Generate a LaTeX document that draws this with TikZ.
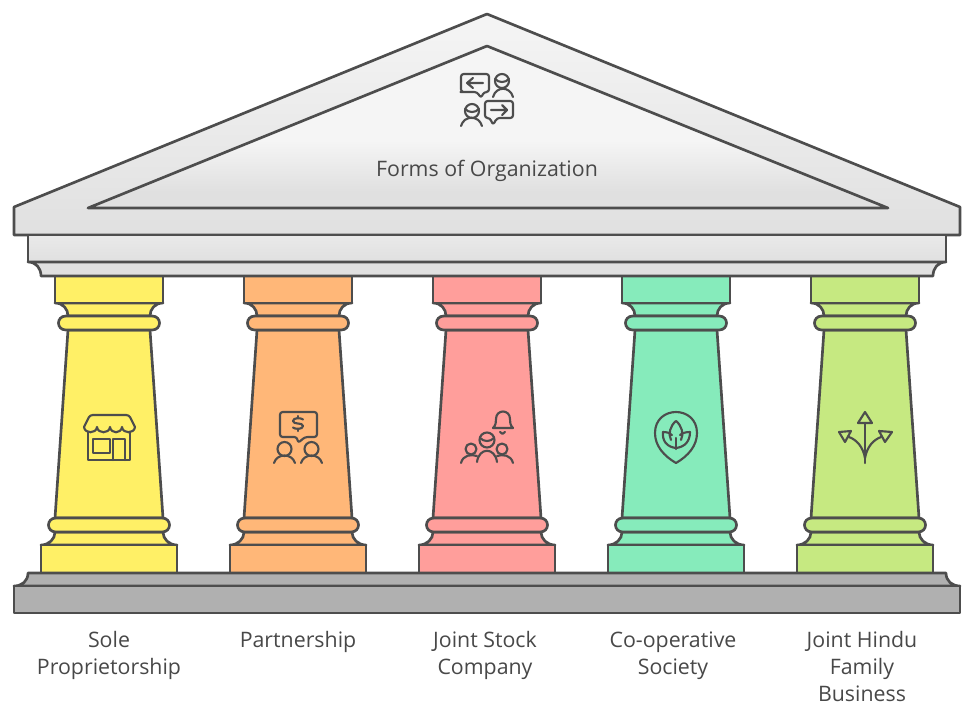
\documentclass[tikz,border=0pt]{standalone}
\usepackage{fontspec}
\setmainfont{Open Sans}
\definecolor{inkgray}{HTML}{4D4D4D}
\definecolor{textgray}{HTML}{484848}
\definecolor{stonelight}{HTML}{F5F5F5}
\definecolor{stonemid}{HTML}{F1F1F1}
\definecolor{stonedark}{HTML}{E0E0E0}
\definecolor{stonebase}{HTML}{B0B0B0}
\definecolor{pillaryellow}{HTML}{FFF066}
\definecolor{pillarorange}{HTML}{FFB778}
\definecolor{pillarred}{HTML}{FF9E9B}
\definecolor{pillargreen}{HTML}{86EBBB}
\definecolor{pillarlime}{HTML}{C6E981}
\tikzset{
    outline/.style={draw=inkgray, line width=2pt, line join=round},
    iconline/.style={draw=inkgray, line width=1.6pt, line cap=round, line join=round},
    caption/.style={text=textgray, font=\fontsize{16}{20.25}\selectfont, align=center, anchor=north}
}
\begin{document}
\begin{tikzpicture}[x=0.75pt, y=-0.75pt]
    \useasboundingbox (0,0) rectangle (975,722);
    % pillars
    \foreach \i/\pillarcolor in {0/pillaryellow, 1/pillarorange, 2/pillarred, 3/pillargreen, 4/pillarlime} {
        \begin{scope}[shift={(\i*189,0)}]
            \draw [outline, fill=\pillarcolor] (68,330) -- (55,518) -- (163,518) -- (150,330) -- cycle;
            \draw [outline, fill=\pillarcolor] (55,303) .. controls (63,303) and (68,309) .. (68,316) -- (150,316) .. controls (150,309) and (155,303) .. (163,303) -- cycle;
            \draw [outline, fill=\pillarcolor] (55,276) rectangle (163,303);
            \draw [outline, fill=\pillarcolor] (66,316) -- (152,316) .. controls (162,316) and (162,330) .. (152,330) -- (66,330) .. controls (56,330) and (56,316) .. (66,316) -- cycle;
            \draw [outline, fill=\pillarcolor] (55,532) .. controls (55,539) and (49,545) .. (41,545) -- (177,545) .. controls (169,545) and (163,539) .. (163,532) -- cycle;
            \draw [outline, fill=\pillarcolor] (56,518) -- (162,518) .. controls (172,518) and (172,532) .. (162,532) -- (56,532) .. controls (46,532) and (46,518) .. (56,518) -- cycle;
            \draw [outline, fill=\pillarcolor] (41,545) rectangle (177,573);
        \end{scope}
    }
    % roof
    \draw [outline, top color=stonelight, middle color=stonemid, bottom color=stonedark] (14,207) -- (487,14) -- (960,207) -- (960,235) -- (14,235) -- cycle;
    \begin{scope}
        \clip (88,208) -- (487,46) -- (888,208) -- cycle;
        \fill [stonelight] (80,40) rectangle (895,140);
        \shade [top color=stonelight, bottom color=stonedark] (80,140) rectangle (895,192);
        \fill [stonedark] (80,192) rectangle (895,210);
    \end{scope}
    \draw [outline] (88,208) -- (487,46) -- (888,208) -- cycle;
    \draw [outline, top color=stonedark!70!white, bottom color=stonedark] (28,235) rectangle (946,262);
    \draw [outline, fill=stonedark] (28,262) .. controls (36,262) and (41,268) .. (41,276) -- (933,276) .. controls (933,268) and (938,262) .. (946,262) -- cycle;
    % base
    \draw [outline, fill=stonebase] (28,573) .. controls (28,581) and (22,586) .. (14,586) -- (960,586) .. controls (952,586) and (946,581) .. (946,573) -- cycle;
    \draw [outline, fill=stonebase] (14,586) rectangle (960,613);
    % roof icon
    \draw [iconline, rounded corners=2pt] (477,92) -- (463,92) -- (461,92) -- (461,74) -- (489,74) -- (489,92) -- (484,92) -- (481,98) -- cycle;
    \draw [iconline] (483,83) -- (467,83) (473,78) -- (467,83) -- (473,88);
    \draw [iconline] (502,81) circle (7);
    \draw [iconline] (495,79) .. controls (499,83) and (505,83) .. (509,79);
    \draw [iconline] (493,97) .. controls (496,86) and (510,86) .. (513,97);
    \draw [iconline] (472,111) circle (7);
    \draw [iconline] (465,109) .. controls (469,113) and (475,113) .. (479,109);
    \draw [iconline] (461,126) .. controls (464,115) and (479,115) .. (482,126);
    \draw [iconline, rounded corners=2pt] (490,118) -- (485,118) -- (485,101) -- (513,101) -- (513,118) -- (497,118) -- (493,125) -- cycle;
    \draw [iconline] (491,110) -- (507,110) (502,105) -- (507,110) -- (502,115);
    % store
    \draw [iconline] (88,432) -- (88,460) -- (130,460) -- (130,432);
    \draw [iconline] (93,439) rectangle (110,453);
    \draw [iconline] (113,460) -- (113,439) -- (125,439) -- (125,460);
    \draw [iconline, rounded corners=2pt] (84,427) -- (90,415) -- (129,415) -- (135,427);
    \draw [iconline] (84,427) .. controls (85,434) and (96,434) .. (97,427) .. controls (98,434) and (109,434) .. (110,427) .. controls (111,434) and (121,434) .. (122,427) .. controls (123,434) and (134,434) .. (135,427);
    % dollar talk
    \draw [iconline, rounded corners=2pt] (297,437) -- (280,437) -- (280,412) -- (317,412) -- (317,437) -- (305,437) -- (298,443) -- cycle;
    \draw [iconline] (303,419.5) .. controls (301,417.5) and (293,417.5) .. (293,421) .. controls (293,425) and (303,422) .. (303,426) .. controls (303,429.5) and (295,429.5) .. (293,427.5);
    \draw [iconline] (298,416) -- (298,418) (298,429) -- (298,431);
    \draw [iconline] (284.5,449) circle (7);
    \draw [iconline] (274,463) .. controls (277,453) and (292,453) .. (295,463);
    \draw [iconline] (311.5,449) circle (7);
    \draw [iconline] (301,463) .. controls (304,453) and (319,453) .. (322,463);
    % bell and group
    \draw [iconline] (493,428) .. controls (496,425) and (496,422) .. (496,419) .. controls (496,409) and (510,409) .. (510,419) .. controls (510,422) and (510,425) .. (513,428) -- cycle;
    \draw [iconline] (500,432) .. controls (501,434.5) and (504,434.5) .. (505,432);
    \draw [iconline] (487,440) circle (7.5);
    \draw [iconline] (480,438) .. controls (484,442) and (490,442) .. (494,438);
    \draw [iconline] (471,449) circle (5.5);
    \draw [iconline] (502,449) circle (5.5);
    \draw [iconline] (477,462) .. controls (479,447) and (495,447) .. (497,462);
    \draw [iconline] (461,463) .. controls (463,455) and (471,454) .. (477,456);
    \draw [iconline] (513,463) .. controls (511,455) and (503,454) .. (497,456);
    % leaf pin
    \draw [iconline] (676,463) .. controls (664,456) and (655,446) .. (655,433) .. controls (655,405) and (697,405) .. (697,433) .. controls (697,446) and (688,456) .. (676,463) -- cycle;
    \draw [iconline] (676,421) .. controls (670,426) and (668,434) .. (671,440) (676,421) .. controls (682,426) and (684,434) .. (681,440);
    \draw [iconline] (676,448) .. controls (667,447) and (662,441) .. (663,432) .. controls (667,432) and (670,433) .. (672,435);
    \draw [iconline] (676,448) .. controls (685,447) and (690,441) .. (690,432) .. controls (686,432) and (682,433) .. (680,435);
    \draw [iconline] (676,438) -- (676,449);
    % three arrows
    \draw [iconline] (865,412) -- (858,423) -- (872,423) -- cycle;
    \draw [iconline] (865,423) -- (865,463);
    \draw [iconline] (839,432) -- (851,431) -- (845,442) -- cycle;
    \draw [iconline] (849,437) .. controls (857,440) and (863,447) .. (865,458);
    \draw [iconline] (892,432) -- (879,431) -- (885,442) -- cycle;
    \draw [iconline] (881,437) .. controls (873,440) and (867,447) .. (865,458);
    % labels
    \node [text=textgray, font=\fontsize{16}{20.25}\selectfont] (roof) at (487,171) {Forms of Organization};
    \node [caption] (sole) at (109,627) {Sole\\Proprietorship};
    \node [caption] (partner) at (298,627) {Partnership};
    \node [caption] (joint) at (485,627) {Joint Stock\\Company};
    \node [caption] (coop) at (673,627) {Co-operative\\Society};
    \node [caption] (hindu) at (862,627) {Joint Hindu\\Family\\Business};
\end{tikzpicture}
\end{document}
